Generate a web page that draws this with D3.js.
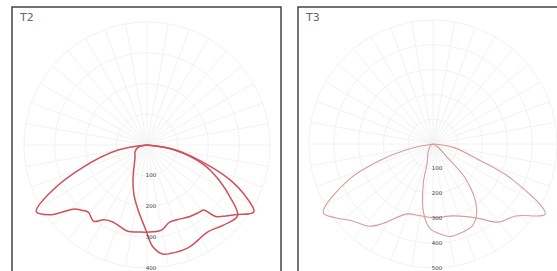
<!DOCTYPE html>
<html>
<head>
<meta charset="utf-8">
<script src="https://cdn.jsdelivr.net/npm/d3@7"></script>
<style>
  body { margin: 0; background: #fff; }
  svg { display: block; font-family: "DejaVu Sans", sans-serif; }
</style>
</head>
<body>
<svg id="chart" width="557" height="271"></svg>
<script>
// Data (gamma angle from nadir in degrees, negative = left half; intensity in cd/klm)

const ringsT2 = [100, 200, 300, 400];
const ringsT3 = [100, 200, 300, 400, 500];

const gammaT2a = [-90, -80, -71, -64, -59, -54, -49, -45, -41, -35, -30, -24, -18, -13, -4, 4, 10, 16, 22, 31, 38, 41, 44, 48, 52, 58, 63, 67, 71, 80, 90];
const cdT2a    = [0, 98, 218, 348, 420, 386, 318, 300, 290, 303, 281, 274, 280, 287, 284, 283, 280, 262, 262, 271, 277, 280, 323, 345, 368, 410, 355, 297, 225, 100, 0];

const gammaT2b = [-90, -75, -60, -45, -30, -22, -15, -8, -1, 3, 8, 12, 22, 35, 44, 52, 58, 64, 71, 80, 90];
const cdT2b    = [0, 30, 45, 55, 85, 122, 165, 212, 274, 329, 358, 361, 360, 345, 361, 374, 318, 261, 195, 88, 0];

const gammaT3a = [-90, -79, -73, -67, -58, -53, -47, -38, -32, -20, -10, 0, 15, 25, 32, 40, 49, 58, 66, 71, 81, 90];
const cdT3a    = [0, 80, 220, 370, 522, 494, 452, 421, 377, 300, 294, 297, 300, 323, 355, 411, 442, 533, 348, 197, 80, 0];

const gammaT3b = [-90, -60, -30, -17, -14, -8, -2, 5, 10, 18, 26, 34, 43, 47, 60, 90];
const cdT3b    = [0, 10, 40, 80, 160, 277, 341, 365, 379, 375, 365, 315, 196, 76, 20, 0];

// Interface

const svg = d3.select('#chart');

function drawPanel(p) {
    const g = svg.append('g');

    g.append('rect')
        .attr('x', p.x0).attr('y', 7)
        .attr('width', p.w).attr('height', 300)
        .attr('fill', '#fff')
        .attr('stroke', '#444')
        .attr('stroke-width', 1.5);

    const r = d3.scaleLinear()
        .domain([0, d3.max(p.rings)])
        .range([0, p.radius]);

    const grid = g.append('g')
        .attr('transform', 'translate(' + p.cx + ',' + p.cy + ')');

    grid.selectAll('circle')
        .data(p.rings)
        .enter().append('circle')
            .attr('r', d => r(d))
            .attr('fill', 'none')
            .attr('stroke', '#f2f2f2')
            .attr('stroke-width', 1);

    grid.selectAll('line')
        .data(d3.range(0, 360, 10))
        .enter().append('line')
            .attr('x1', 0).attr('y1', 0)
            .attr('x2', d => r(d3.max(p.rings)) * Math.sin(d * Math.PI / 180))
            .attr('y2', d => r(d3.max(p.rings)) * Math.cos(d * Math.PI / 180))
            .attr('stroke', '#f2f2f2')
            .attr('stroke-width', 1);

    const line = d3.lineRadial()
        .angle(d => Math.PI - d[0] * Math.PI / 180)
        .radius(d => r(d[1]))
        .curve(d3.curveCatmullRom.alpha(0.5));

    p.series.forEach(s => {
        grid.append('path')
            .datum(d3.zip(s.gamma, s.cd))
            .attr('d', line)
            .attr('fill', 'none')
            .attr('stroke', p.color)
            .attr('stroke-width', p.width)
            .attr('stroke-linejoin', 'round');
    });

    grid.selectAll('text')
        .data(p.rings)
        .enter().append('text')
            .attr('x', 4)
            .attr('y', d => r(d))
            .attr('dy', '0.3em')
            .attr('text-anchor', 'middle')
            .attr('font-size', 5.5)
            .attr('fill', '#444')
            .text(d => d);

    g.append('text')
        .attr('x', p.x0 + 8)
        .attr('y', 21)
        .attr('font-size', 11)
        .attr('fill', '#666')
        .text(p.title);
}

drawPanel({
    title: 'T2', x0: 12, w: 269, cx: 147, cy: 145, radius: 123,
    rings: ringsT2, color: '#d0505b', width: 1.5,
    series: [{gamma: gammaT2a, cd: cdT2a}, {gamma: gammaT2b, cd: cdT2b}]
});

drawPanel({
    title: 'T3', x0: 298, w: 275, cx: 433, cy: 144, radius: 124,
    rings: ringsT3, color: '#d89c9e', width: 1.1,
    series: [{gamma: gammaT3a, cd: cdT3a}, {gamma: gammaT3b, cd: cdT3b}]
});
</script>
</body>
</html>
